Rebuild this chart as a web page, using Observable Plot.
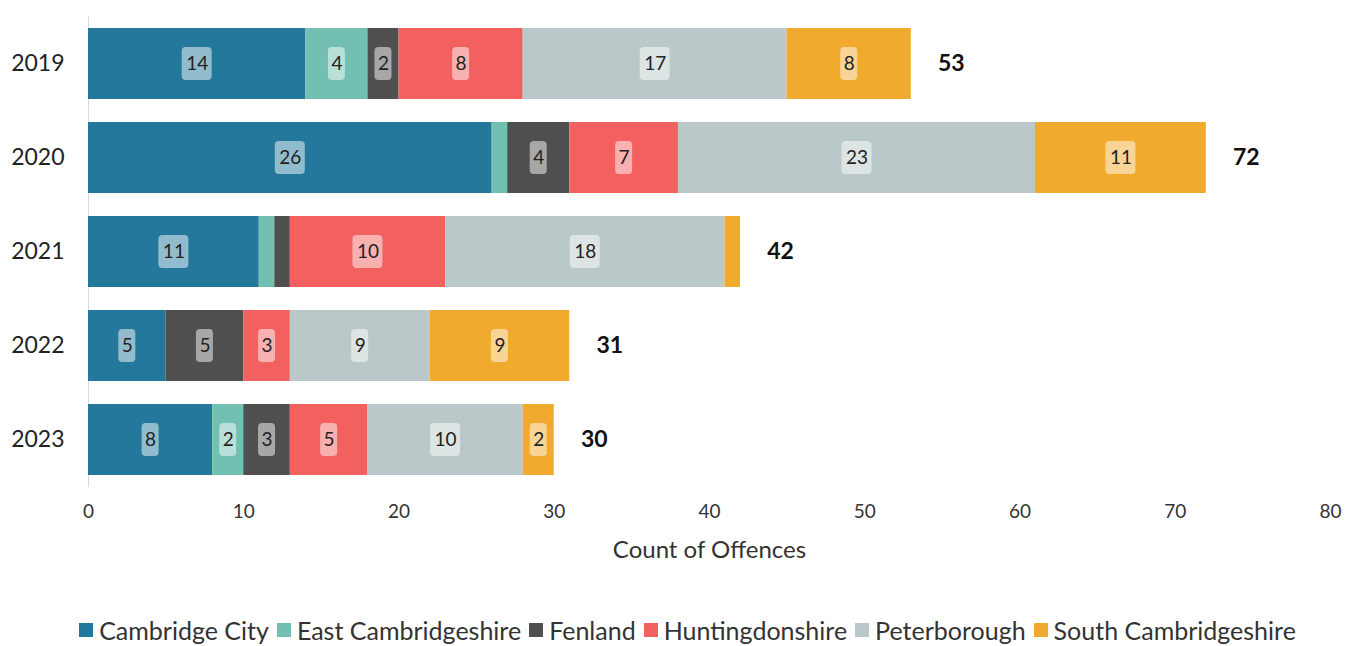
<!DOCTYPE html>
<html>
<head>
<meta charset="utf-8">
<script src="https://cdn.jsdelivr.net/npm/d3@7"></script>
<script src="https://cdn.jsdelivr.net/npm/@observablehq/plot@0.6"></script>
<style>
  html, body { margin: 0; padding: 0; background: #fff; }
  #chart svg { display: block; }
  #legend { display: flex; justify-content: center; align-items: center; height: 32px; padding-left: 30px;
    font-family: Lato, "Open Sans", sans-serif; font-size: 25px; line-height: 28px; color: #333; gap: 8px; }
  #legend .item { display: flex; align-items: center; gap: 6px; white-space: nowrap; }
  #legend .sw { width: 14px; height: 14px; display: inline-block; }
</style>
</head>
<body>
<div id="chart"></div>
<div id="legend"></div>
<script>
const years = ["2019", "2020", "2021", "2022", "2023"];
const districts = ["Cambridge City", "East Cambridgeshire", "Fenland", "Huntingdonshire", "Peterborough", "South Cambridgeshire"];
const cambridgeCity = [14, 26, 11, 5, 8];
const eastCambridgeshire = [4, 1, 1, 0, 2];
const fenland = [2, 4, 1, 5, 3];
const huntingdonshire = [8, 7, 10, 3, 5];
const peterborough = [17, 23, 18, 9, 10];
const southCambridgeshire = [8, 11, 1, 9, 2];
const xTicks = [0, 10, 20, 30, 40, 50, 60, 70, 80];
const colors = ["#23789B", "#72C0B1", "#4F4F4F", "#F26060", "#BAC8C9", "#F0AA2E"];

const series = [cambridgeCity, eastCambridgeshire, fenland, huntingdonshire, peterborough, southCambridgeshire];

// Build stacked rows (data-space cumulative values)
const rows = [];
const totals = [];
years.forEach((year, i) => {
  let acc = 0;
  districts.forEach((district, j) => {
    const value = series[j][i];
    rows.push({year, district, value, start: acc, end: acc + value, mid: acc + value / 2});
    acc += value;
  });
  totals.push({year, total: acc});
});
const labelled = rows.filter(d => d.value >= 2);
const oneDigit = labelled.filter(d => String(d.value).length === 1);
const twoDigit = labelled.filter(d => String(d.value).length === 2);

const boxOpts = {y: "year", fill: "white", fillOpacity: 0.5, rx: 4, insetTop: 19, insetBottom: 19};

const chart = Plot.plot({
  width: 1345,
  height: 614,
  marginLeft: 88,
  marginRight: 15,
  marginTop: 16,
  marginBottom: 127,
  style: {fontFamily: "Lato, 'Open Sans', sans-serif", color: "#333", background: "white"},
  x: {domain: [0, 80]},
  y: {domain: years, paddingInner: 0.25, paddingOuter: 0.125},
  color: {domain: districts, range: colors},
  marks: [
    Plot.axisX({ticks: xTicks, tickSize: 0, tickPadding: 17, label: null, fontSize: 19, fill: "#333"}),
    Plot.axisY({tickSize: 0, tickPadding: 24, label: null, fontSize: 23, fill: "#222"}),
    Plot.ruleX([0], {stroke: "#d9d9d9", strokeWidth: 1}),
    Plot.barX(rows, {x1: "start", x2: "end", y: "year", fill: "district"}),
    Plot.barX(oneDigit, {...boxOpts, x1: "mid", x2: "mid", insetLeft: -8.5, insetRight: -8.5}),
    Plot.barX(twoDigit, {...boxOpts, x1: "mid", x2: "mid", insetLeft: -15, insetRight: -15}),
    Plot.text(labelled, {x: "mid", y: "year", text: d => String(d.value), fontSize: 19, fill: "#222"}),
    Plot.text(totals, {x: "total", y: "year", text: d => String(d.total), dx: 40, fontSize: 23, fontWeight: "bold", fill: "#111"}),
    Plot.text(["Count of Offences"], {frameAnchor: "bottom", dy: 70, fontSize: 24, fill: "#333"})
  ]
});
document.getElementById("chart").appendChild(chart);

const legend = document.getElementById("legend");
districts.forEach((d, i) => {
  const item = document.createElement("span");
  item.className = "item";
  const sw = document.createElement("span");
  sw.className = "sw";
  sw.style.background = colors[i];
  item.appendChild(sw);
  item.appendChild(document.createTextNode(d));
  legend.appendChild(item);
});
</script>
</body>
</html>
